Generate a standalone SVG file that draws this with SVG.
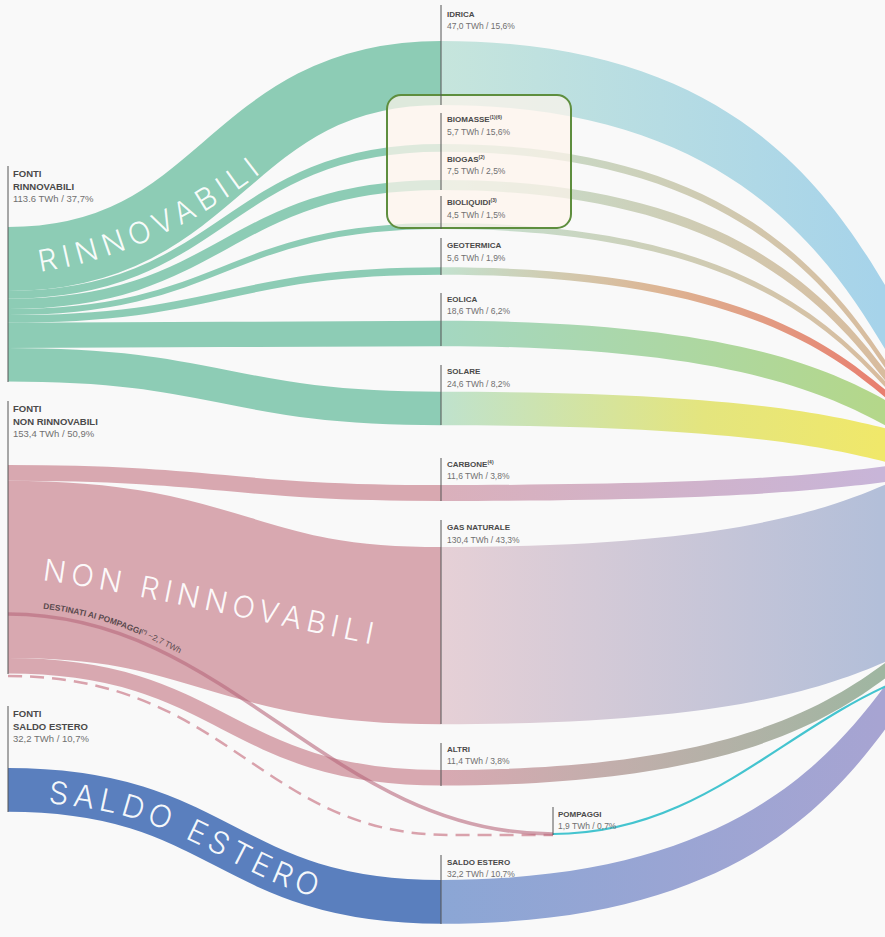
<svg xmlns="http://www.w3.org/2000/svg" width="885" height="937" viewBox="0 0 885 937">
<defs>
<style>
.t{font-family:"Liberation Sans",Arial,sans-serif;font-weight:bold;font-size:8px;fill:#4a4a4a}
.v{font-family:"Liberation Sans",Arial,sans-serif;font-size:8.5px;fill:#707070}
.lt{font-family:"Liberation Sans",Arial,sans-serif;font-weight:bold;font-size:9.5px;fill:#4a4a4a}
.lv{font-family:"Liberation Sans",Arial,sans-serif;font-size:9.5px;fill:#707070}
.big{font-family:Inter,Lato,"DejaVu Sans",sans-serif;font-weight:300;fill:#ffffff}
.f{fill:none;stroke-linecap:butt}
.tick{stroke:#555;stroke-width:1;fill:none}
.sup{font-size:5px}
</style>
<linearGradient id="gIdr" gradientUnits="userSpaceOnUse" x1="441" y1="0" x2="880" y2="0"><stop offset="0" stop-color="#c6e5dc"/><stop offset="1" stop-color="#a6d3ea"/></linearGradient>
<linearGradient id="gBio" gradientUnits="userSpaceOnUse" x1="441" y1="0" x2="880" y2="0"><stop offset="0" stop-color="#c3e2d2"/><stop offset="1" stop-color="#d8bc9e"/></linearGradient>
<linearGradient id="gGeo" gradientUnits="userSpaceOnUse" x1="441" y1="0" x2="880" y2="0"><stop offset="0" stop-color="#c3e2cf"/><stop offset="0.5" stop-color="#ddb594"/><stop offset="1" stop-color="#e87f6f"/></linearGradient>
<linearGradient id="gEol" gradientUnits="userSpaceOnUse" x1="441" y1="0" x2="880" y2="0"><stop offset="0" stop-color="#a4d7c1"/><stop offset="1" stop-color="#b4d78a"/></linearGradient>
<linearGradient id="gSol" gradientUnits="userSpaceOnUse" x1="441" y1="0" x2="880" y2="0"><stop offset="0" stop-color="#bfe2cd"/><stop offset="0.6" stop-color="#e4e57e"/><stop offset="1" stop-color="#f0e86a"/></linearGradient>
<linearGradient id="gCar" gradientUnits="userSpaceOnUse" x1="441" y1="0" x2="880" y2="0"><stop offset="0" stop-color="#dab0bb"/><stop offset="1" stop-color="#c8b5d8"/></linearGradient>
<linearGradient id="gGas" gradientUnits="userSpaceOnUse" x1="441" y1="0" x2="880" y2="0"><stop offset="0" stop-color="#e6d0d6"/><stop offset="1" stop-color="#b3bfd9"/></linearGradient>
<linearGradient id="gAlt" gradientUnits="userSpaceOnUse" x1="441" y1="0" x2="880" y2="0"><stop offset="0" stop-color="#d8a9b2"/><stop offset="1" stop-color="#9fb6a1"/></linearGradient>
<linearGradient id="gSal" gradientUnits="userSpaceOnUse" x1="441" y1="0" x2="880" y2="0"><stop offset="0" stop-color="#8ba6d5"/><stop offset="1" stop-color="#a7a4d2"/></linearGradient>
<path id="pR" d="M40,272 Q180,250 300,140"/>
<path id="pN" d="M42,580 C120,590 250,620 400,650"/>
<path id="pS" d="M8,802 C224.5,802 224.5,914 441,914"/>
<path id="pD" d="M8,607 C230,607 330,827 553,827"/>
</defs>
<rect x="0" y="0" width="885" height="937" fill="#f9f9f9"/>

<g id="connectors">
  <!-- left: renewables -->
  <path class="f" stroke="#8dccb5" stroke-width="64" d="M8,259 C224.5,259 224.5,73 441,73"/>
  <path class="f" stroke="#8dccb5" stroke-width="7.8" d="M8,294.9 C224.5,294.9 224.5,147.9 441,147.9"/>
  <path class="f" stroke="#8dccb5" stroke-width="10.2" d="M8,303.9 C224.5,303.9 224.5,185 441,185"/>
  <path class="f" stroke="#8dccb5" stroke-width="6.1" d="M8,312.05 C224.5,312.05 224.5,226 441,226"/>
  <path class="f" stroke="#8dccb5" stroke-width="7.6" d="M8,318.9 C224.5,318.9 224.5,271 441,271"/>
  <path class="f" stroke="#8dccb5" stroke-width="25.3" d="M8,335.35 C224.5,335.35 224.5,333.5 441,333.5"/>
  <path class="f" stroke="#8dccb5" stroke-width="33.5" d="M8,364.75 C224.5,364.75 224.5,408.5 441,408.5"/>
  <!-- left: non renewables -->
  <path class="f" stroke="#d8a8b0" stroke-width="15.8" d="M8,472.9 C224.5,472.9 224.5,493 441,493"/>
  <path class="f" stroke="#d8a8b0" stroke-width="177.3" d="M8,569.45 C224.5,569.45 224.5,635.7 441,635.7"/>
  <path class="f" stroke="#d8a8b0" stroke-width="15.5" d="M8,665.85 C224.5,665.85 224.5,777.8 441,777.8"/>
  <!-- left: saldo estero -->
  <path class="f" stroke="#5a7fbe" stroke-width="43.8" d="M8,789.9 C224.5,789.9 224.5,901.9 441,901.9"/>
  <!-- pompaggi -->
  <path class="f" stroke="#d9a2ac" stroke-width="2.5" stroke-dasharray="14 8" d="M8,676 C230,676 260,835 450,835 L553,835"/>
  <path class="f" stroke="#b8677b" stroke-opacity="0.6" stroke-width="3.5" d="M8,614 C230,614 330,834 553,834"/>
  <!-- right -->
  <path fill="url(#gIdr)" d="M441,41 C900,41 880,414 1000,414 L1000,478 C880,478 900,105 441,105 Z"/>
  <path fill="url(#gBio)" d="M441,144 C900,144 880,474 1000,474 L1000,481.8 C880,481.8 900,151.8 441,151.8 Z"/>
  <path fill="url(#gBio)" d="M441,179.9 C900,179.9 880,470.5 1000,470.5 L1000,480.7 C880,480.7 900,190.1 441,190.1 Z"/>
  <path fill="url(#gBio)" d="M441,222.95 C900,222.95 880,464.3 1000,464.3 L1000,470.4 C880,470.4 900,229.05 441,229.05 Z"/>
  <path fill="url(#gGeo)" d="M441,267.2 C900,267.2 880,454.2 1000,454.2 L1000,461.8 C880,461.8 900,274.8 441,274.8 Z"/>
  <path fill="url(#gEol)" d="M441,320.85 C900,320.85 880,441.7 1000,441.7 L1000,467 C880,467 900,346.15 441,346.15 Z"/>
  <path fill="url(#gSol)" d="M441,391.75 C900,391.75 880,447.7 1000,447.7 L1000,481.2 C880,481.2 900,425.25 441,425.25 Z"/>
  <path fill="url(#gCar)" d="M441,485.1 C900,485.1 880,456.4 1000,456.4 L1000,472.2 C880,472.2 900,500.9 441,500.9 Z"/>
  <path fill="url(#gGas)" d="M441,547.05 C900,547.05 880,451.7 1000,451.7 L1000,629 C880,629 900,724.35 441,724.35 Z"/>
  <path fill="url(#gAlt)" d="M441,770.05 C900,770.05 880,606.5 1000,606.5 L1000,622 C880,622 900,785.55 441,785.55 Z"/>
  <path fill="url(#gSal)" d="M441,880 C900,880 880,583.2 1000,583.2 L1000,627 C880,627 900,923.8 441,923.8 Z"/>
  <path class="f" stroke="#44c4cf" stroke-width="2.2" d="M553,834 C700,834 780,730 900,680"/>
</g>

<g id="big-labels">
  <text class="big" font-size="30" fill-opacity="0.95"><textPath href="#pR" textLength="245" lengthAdjust="spacing">RINNOVABILI</textPath></text>
  <text class="big" font-size="30" fill-opacity="0.95"><textPath href="#pN" textLength="336" lengthAdjust="spacing">NON RINNOVABILI</textPath></text>
  <text class="big" font-size="31" fill-opacity="0.95"><textPath href="#pS" startOffset="40" textLength="285" lengthAdjust="spacing">SALDO ESTERO</textPath></text>
  <text font-family="Liberation Sans,Arial,sans-serif" font-size="8.3" fill="#5a4a4e"><textPath href="#pD" startOffset="35"><tspan font-weight="bold">DESTINATI AI POMPAGGI</tspan><tspan font-weight="bold" font-size="5" dy="-2.8">(*)</tspan><tspan dy="2.8"> ~2,7 TWh</tspan></textPath></text>
</g>

<rect id="highlight" x="387" y="95" width="184" height="133" rx="14" fill="#fdf4ec" fill-opacity="0.72" stroke="#5e8e3e" stroke-width="2"/>

<g id="src-rinnovabili">
  <line class="tick" x1="8" y1="166" x2="8" y2="382"/>
  <text class="lt" x="13" y="177">FONTI</text>
  <text class="lt" x="13" y="189.5">RINNOVABILI</text>
  <text class="lv" x="13" y="202">113.6 TWh / 37,7%</text>
</g>
<g id="src-non-rinnovabili">
  <line class="tick" x1="8" y1="401" x2="8" y2="674"/>
  <text class="lt" x="13" y="412">FONTI</text>
  <text class="lt" x="13" y="424.5">NON RINNOVABILI</text>
  <text class="lv" x="13" y="437">153,4 TWh / 50,9%</text>
</g>
<g id="src-saldo-estero">
  <line class="tick" x1="8" y1="706" x2="8" y2="812"/>
  <text class="lt" x="13" y="717">FONTI</text>
  <text class="lt" x="13" y="729.5">SALDO ESTERO</text>
  <text class="lv" x="13" y="742">32,2 TWh / 10,7%</text>
</g>

<g id="n-idrica">
  <line class="tick" x1="441" y1="5" x2="441" y2="105"/>
  <text class="t" x="447" y="16.7">IDRICA</text>
  <text class="v" x="447" y="29.3">47,0 TWh / 15,6%</text>
</g>
<g id="n-biomasse">
  <line class="tick" x1="441" y1="113" x2="441" y2="152"/>
  <text class="t" x="447" y="122.3">BIOMASSE<tspan class="sup" dy="-3">(1)(6)</tspan></text>
  <text class="v" x="447" y="135">5,7 TWh / 15,6%</text>
</g>
<g id="n-biogas">
  <line class="tick" x1="441" y1="152" x2="441" y2="190"/>
  <text class="t" x="447" y="161.7">BIOGAS<tspan class="sup" dy="-3">(2)</tspan></text>
  <text class="v" x="447" y="174.3">7,5 TWh / 2,5%</text>
</g>
<g id="n-bioliquidi">
  <line class="tick" x1="441" y1="196" x2="441" y2="229"/>
  <text class="t" x="447" y="205">BIOLIQUIDI<tspan class="sup" dy="-3">(3)</tspan></text>
  <text class="v" x="447" y="218.3">4,5 TWh / 1,5%</text>
</g>
<g id="n-geotermica">
  <line class="tick" x1="441" y1="238" x2="441" y2="275"/>
  <text class="t" x="447" y="248.3">GEOTERMICA</text>
  <text class="v" x="447" y="261">5,6 TWh / 1,9%</text>
</g>
<g id="n-eolica">
  <line class="tick" x1="441" y1="293" x2="441" y2="346"/>
  <text class="t" x="447" y="301.7">EOLICA</text>
  <text class="v" x="447" y="314.3">18,6 TWh / 6,2%</text>
</g>
<g id="n-solare">
  <line class="tick" x1="441" y1="365" x2="441" y2="425"/>
  <text class="t" x="447" y="374.3">SOLARE</text>
  <text class="v" x="447" y="386.7">24,6 TWh / 8,2%</text>
</g>
<g id="n-carbone">
  <line class="tick" x1="441" y1="458" x2="441" y2="501"/>
  <text class="t" x="447" y="466.7">CARBONE<tspan class="sup" dy="-3">(4)</tspan></text>
  <text class="v" x="447" y="479.3">11,6 TWh / 3,8%</text>
</g>
<g id="n-gas">
  <line class="tick" x1="441" y1="520" x2="441" y2="724"/>
  <text class="t" x="447" y="530">GAS NATURALE</text>
  <text class="v" x="447" y="542.7">130,4 TWh / 43,3%</text>
</g>
<g id="n-altri">
  <line class="tick" x1="441" y1="743" x2="441" y2="786"/>
  <text class="t" x="447" y="751.7">ALTRI</text>
  <text class="v" x="447" y="764.3">11,4 TWh / 3,8%</text>
</g>
<g id="n-pompaggi">
  <line class="tick" x1="553" y1="807" x2="553" y2="835"/>
  <text class="t" x="558" y="816.7">POMPAGGI</text>
  <text class="v" x="558" y="829">1,9 TWh / 0,7%</text>
</g>
<g id="n-saldo-estero">
  <line class="tick" x1="441" y1="855" x2="441" y2="924"/>
  <text class="t" x="447" y="865">SALDO ESTERO</text>
  <text class="v" x="447" y="876.5">32,2 TWh / 10,7%</text>
</g>
</svg>
